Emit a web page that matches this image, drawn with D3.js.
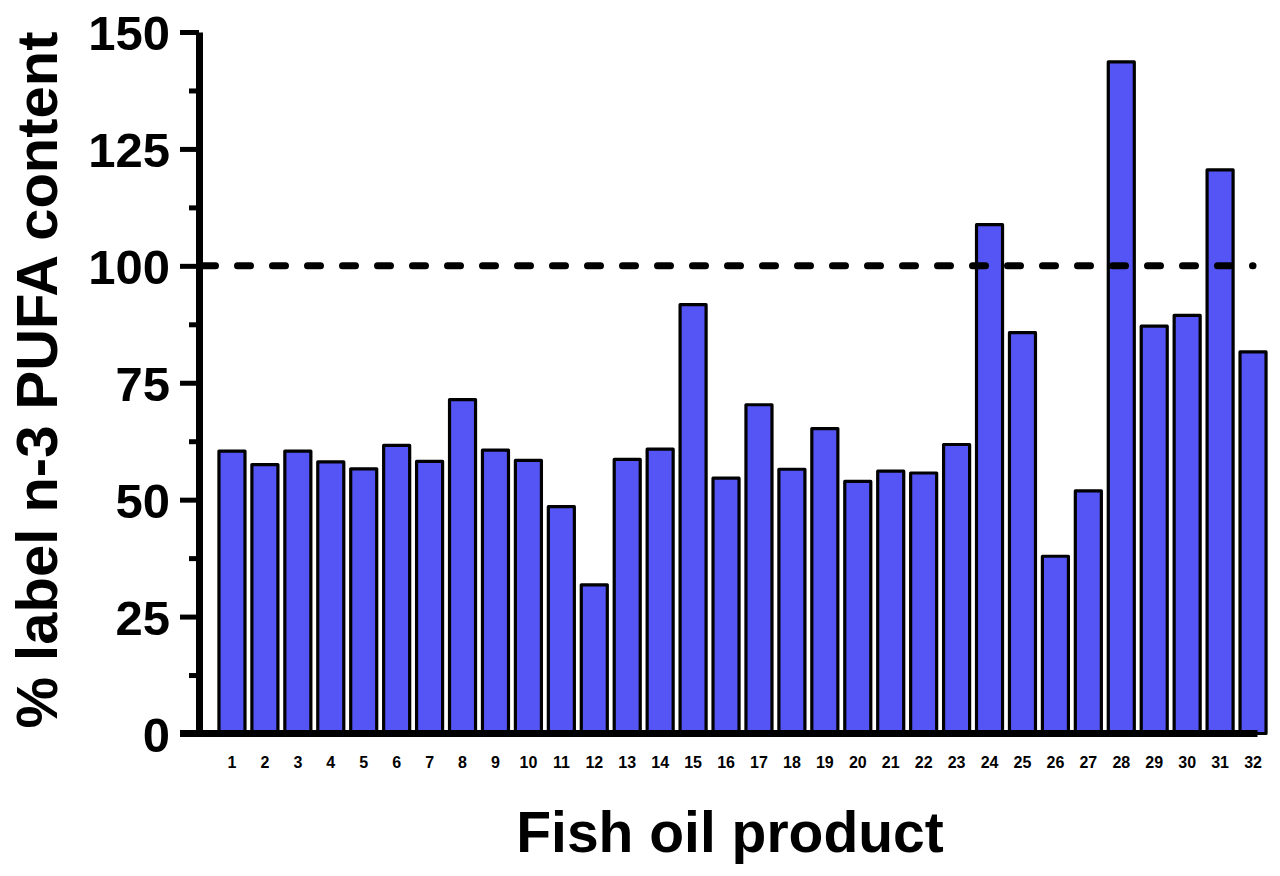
<!DOCTYPE html>
<html>
<head>
<meta charset="utf-8">
<script src="https://cdn.jsdelivr.net/npm/d3@7/dist/d3.min.js"></script>
<style>
  body { margin: 0; background: #fff; }
  text { font-family: "Liberation Sans", Arial, sans-serif; font-weight: bold; }
</style>
</head>
<body>
<div id="chart"></div>
<script>
// products 1..32
var products = d3.range(1, 33).map(String);
var pufa = [60.4, 57.5, 60.4, 58.1, 56.6, 61.6, 58.2, 71.4, 60.6, 58.4,
	48.5, 31.8, 58.6, 60.8, 91.7, 54.6, 70.3, 56.5, 65.2, 53.9,
	56.1, 55.7, 61.8, 108.8, 85.7, 37.9, 51.9, 143.6, 87.1, 89.4,
	120.5, 81.6];
var yTicks = [0, 25, 50, 75, 100, 125, 150];
var yMinor = [12.5, 37.5, 62.5, 87.5, 112.5, 137.5];
var labelValue = 100;

var width = 1280,
	height = 876;

var svg = d3.select("#chart").append("svg")
	.attr("width", width)
	.attr("height", height);

// set the ranges
var x = d3.scaleBand()
	.domain(products)
	.range([215.5, 1269.5])
	.paddingInner(0.21)
	.paddingOuter(0.105);

var y = d3.scaleLinear()
	.domain([0, 150])
	.range([733.5, 32]);

var axisX = 199;

// bars
svg.selectAll(".bar")
	.data(pufa)
	.enter().append("rect")
	.attr("class", "bar")
	.attr("x", function(d, i) { return x(products[i]); })
	.attr("width", x.bandwidth())
	.attr("y", function(d) { return y(d); })
	.attr("height", function(d) { return y(0) - y(d); })
	.attr("fill", "#5555f6")
	.attr("stroke", "#000")
	.attr("stroke-width", 3.2)
	.attr("stroke-linejoin", "round");

// dashed 100% line
svg.append("line")
	.attr("x1", axisX + 3.5)
	.attr("x2", x(products[31]) + x.bandwidth() / 2)
	.attr("y1", y(labelValue))
	.attr("y2", y(labelValue))
	.attr("stroke", "#000")
	.attr("stroke-width", 7)
	.attr("stroke-linecap", "round")
	.attr("stroke-dasharray", "13,22");

// y axis
var yAxis = svg.append("g")
	.attr("transform", "translate(" + axisX + ",0)")
	.call(d3.axisLeft(y).tickValues(yTicks).tickSize(19).tickSizeOuter(0).tickPadding(10));
yAxis.select(".domain").attr("stroke-width", 7);
yAxis.selectAll(".tick line").attr("stroke-width", 5);
yAxis.selectAll(".tick text")
	.style("font-size", "49px")
	.attr("fill", "#000")
	.attr("dy", "0.36em");

var yMin = svg.append("g")
	.attr("transform", "translate(" + axisX + ",0)")
	.call(d3.axisLeft(y).tickValues(yMinor).tickSize(10).tickFormat(""));
yMin.select(".domain").remove();
yMin.selectAll(".tick line").attr("stroke-width", 5);

// x axis
var xAxis = svg.append("g")
	.attr("transform", "translate(0," + y(0) + ")")
	.call(d3.axisBottom(x).tickSize(0).tickPadding(23));
xAxis.select(".domain").remove();
xAxis.selectAll(".tick text")
	.style("font-size", "16px")
	.attr("fill", "#000");

svg.append("line")
	.attr("x1", axisX - 19)
	.attr("x2", x.range()[1] - 12)
	.attr("y1", y(0))
	.attr("y2", y(0))
	.attr("stroke", "#000")
	.attr("stroke-width", 7);

// axis titles
svg.append("text")
	.attr("x", 730)
	.attr("y", 852)
	.attr("text-anchor", "middle")
	.style("font-size", "57px")
	.text("Fish oil product");

svg.append("text")
	.attr("transform", "translate(57,380)rotate(-90)")
	.attr("text-anchor", "middle")
	.style("font-size", "58px")
	.text("% label n-3 PUFA content");
</script>
</body>
</html>
